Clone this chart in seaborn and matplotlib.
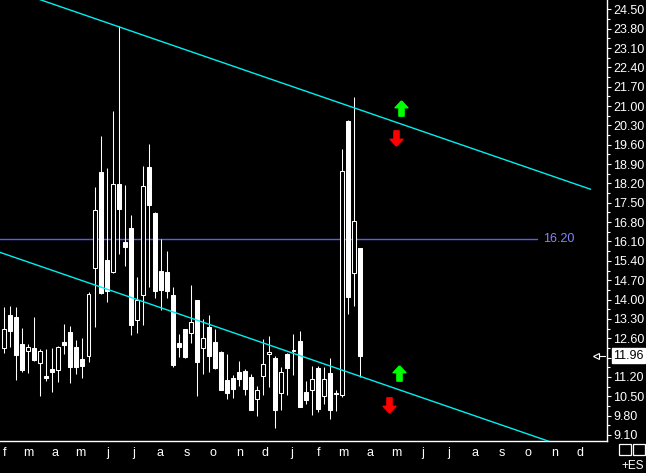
import numpy as np
import pandas as pd
import matplotlib
matplotlib.use("Agg")
import matplotlib.pyplot as plt
import matplotlib.dates as mdates
import matplotlib.transforms as mtrans
from matplotlib.path import Path
from matplotlib.patches import Rectangle
import seaborn as sns

# ---------------- data ----------------
first_week = "2015-02-01"
opens = [12.23, 13.44, 13.37, 12.39, 12.12, 12.25, 11.71, 11.23, 11.49, 11.46,
         12.46, 12.82, 12.28, 11.85, 11.97, 15.13, 18.61, 15.43, 14.98, 18.18,
         16.08, 16.59, 13.26, 14.17, 18.79, 17.13, 15.03, 15.00, 14.16, 12.43,
         12.93, 12.80, 13.98, 12.26, 13.01, 12.46, 12.10, 11.09, 11.16, 11.38,
         11.41, 11.20, 10.41, 11.24, 12.02, 11.88, 10.63, 12.03, 12.12, 12.50,
         10.65, 10.74, 11.52, 10.52, 11.34, 10.58, 10.56, 20.46, 14.97, 15.86]
highs = [13.72, 13.77, 13.72, 12.97, 12.39, 13.37, 12.21, 12.21, 12.26, 12.32,
         13.11, 13.04, 12.54, 12.61, 14.27, 18.07, 19.92, 18.76, 20.82, 23.90,
         18.14, 17.06, 14.81, 18.83, 19.63, 17.15, 16.19, 15.76, 14.45, 12.75,
         12.95, 14.53, 14.00, 13.30, 13.44, 12.93, 12.12, 12.03, 11.27, 11.78,
         11.49, 11.31, 10.87, 12.57, 12.68, 11.96, 11.55, 12.05, 12.75, 12.86,
         11.05, 11.59, 11.59, 11.56, 11.88, 10.74, 19.45, 20.48, 21.33, 15.87]
lows = [12.08, 12.29, 11.09, 11.39, 11.35, 11.79, 10.51, 11.06, 10.66, 11.03,
        12.04, 10.99, 11.32, 11.17, 11.75, 13.00, 14.20, 13.92, 14.95, 15.65,
        15.22, 12.72, 12.78, 13.08, 14.46, 14.07, 13.62, 14.07, 11.57, 11.93,
        11.88, 12.44, 10.52, 11.29, 11.39, 11.50, 10.72, 10.41, 10.45, 10.88,
        10.56, 9.99, 9.80, 10.56, 10.85, 9.36, 10.01, 10.56, 11.28, 10.10,
        10.23, 9.83, 9.94, 10.23, 9.69, 9.98, 10.48, 13.48, 13.78, 11.21]
closes = [12.95, 12.87, 12.00, 11.45, 12.28, 11.81, 12.14, 11.16, 11.39, 12.28,
          12.35, 11.56, 11.56, 11.59, 14.20, 17.23, 14.25, 14.32, 18.18, 17.29,
          15.90, 13.08, 13.98, 18.11, 17.42, 14.32, 14.34, 14.32, 11.64, 12.28,
          11.92, 13.18, 11.75, 12.60, 11.97, 11.53, 10.74, 10.63, 10.77, 11.14,
          10.77, 10.01, 10.73, 11.67, 12.10, 10.01, 11.38, 11.53, 12.16, 10.12,
          10.38, 11.12, 10.05, 11.12, 10.01, 10.60, 18.65, 14.09, 16.84, 11.96]

month_ticks = pd.date_range("2015-02-01", "2016-12-01", freq="MS")
month_labels = ["f", "m", "a", "m", "j", "j", "a", "s", "o", "n", "d",
                "j", "f", "m", "a", "m", "j", "j", "a", "s", "o", "n", "d"]
price_ticks = [9.10, 9.80, 10.50, 11.20, 11.90, 12.60, 13.30, 14.00, 14.70,
               15.40, 16.10, 16.80, 17.50, 18.20, 18.90, 19.60, 20.30, 21.00,
               21.70, 22.40, 23.10, 23.80, 24.50]
hidden_price_labels = [11.90]  # covered by the last-price box in the reference

channel_dates = ["2015-03-01", "2016-12-13", "2015-01-27", "2016-10-31"]
channel_prices = [25.00, 17.99, 15.71, 8.81]
channel_names = ["upper", "upper", "lower", "lower"]

level_value = 16.20
level_dates = ["2015-01-20", "2016-10-12"]

up_arrow_dates = ["2016-05-07", "2016-05-05"]
up_arrow_prices = [20.93, 11.34]
down_arrow_dates = ["2016-05-01", "2016-04-23"]
down_arrow_prices = [19.84, 10.18]

last_price = 11.96

# ---------------- style ----------------
sns.set_theme(style="dark", rc={
    "axes.facecolor": "black", "figure.facecolor": "black",
    "axes.edgecolor": "white", "axes.grid": False,
})
plt.rcParams["font.family"] = ["Liberation Sans", "DejaVu Sans"]

W, H = 646, 473
fig = plt.figure(figsize=(W / 100, H / 100), dpi=100)
ax = fig.add_axes([0, (H - 441) / H, 607 / W, 441 / H])
ax.set_facecolor("black")

df = pd.DataFrame({
    "date": pd.date_range(first_week, periods=len(opens), freq="7D"),
    "open": opens, "high": highs, "low": lows, "close": closes,
})
df["up"] = df["close"] >= df["open"]

# wicks
ax.vlines(df["date"], df["low"], df["high"], color="white", lw=0.75, zorder=2)
# bodies
bottoms = np.minimum(df["open"], df["close"])
heights = np.maximum(np.abs(df["close"] - df["open"]), 0.04)
faces = ["black" if u else "white" for u in df["up"]]
ax.bar(df["date"], heights, bottom=bottoms, width=4.6, color=faces,
       edgecolor="white", linewidth=0.75, zorder=3)

# channel lines
chan = pd.DataFrame({"date": pd.to_datetime(channel_dates),
                     "price": channel_prices, "line": channel_names})
sns.lineplot(data=chan, x="date", y="price", units="line", estimator=None,
             color="#00f0f0", lw=1.0, ax=ax, zorder=4)

# horizontal level
lvl = pd.DataFrame({"date": pd.to_datetime(level_dates),
                    "price": [level_value, level_value]})
sns.lineplot(data=lvl, x="date", y="price", color="#5a5aff", lw=1.0, ax=ax, zorder=1)
ax.annotate(f"{level_value:.2f}", xy=(pd.Timestamp(level_dates[1]), level_value),
            xytext=(4, 0), textcoords="offset points", color="#8484ff",
            fontsize=9, va="center", ha="left")

# arrows
up_path = Path([(0, 0.5), (0.42, 0.05), (0.17, 0.05), (0.17, -0.5),
                (-0.17, -0.5), (-0.17, 0.05), (-0.42, 0.05), (0, 0.5)])
down_path = Path([(x, -y) for x, y in up_path.vertices])
ax.plot(pd.to_datetime(up_arrow_dates), up_arrow_prices, ls="none",
        marker=up_path, markersize=11, color="#00ff00", zorder=5)
ax.plot(pd.to_datetime(down_arrow_dates), down_arrow_prices, ls="none",
        marker=down_path, markersize=11, color="#ff0000", zorder=5)

# axes limits and ticks
base = pd.Timestamp(first_week)
ax.set_xlim(base - pd.Timedelta(days=4.76), base + pd.Timedelta(days=700))
ax.set_ylim(8.88, 24.84)
ax.set_xlabel("")
ax.set_ylabel("")

ax.set_xticks(month_ticks)
ax.set_xticklabels(month_labels)
ax.yaxis.tick_right()
ax.set_yticks(price_ticks)
ax.set_yticklabels(["" if v in hidden_price_labels else f"{v:.2f}"
                    for v in price_ticks])
ax.set_yticks([v + 0.35 for v in price_ticks[:-1]], minor=True)
ax.tick_params(axis="both", colors="white", labelcolor="white", labelsize=9,
               direction="out", length=3, width=0.8, pad=1.5)
ax.tick_params(axis="y", which="minor", colors="white", length=2, width=0.8)
ax.tick_params(axis="x", pad=1)
for s in ["left", "top"]:
    ax.spines[s].set_visible(False)
for s in ["right", "bottom"]:
    ax.spines[s].set_color("white")
    ax.spines[s].set_linewidth(1.0)

# last price box and marker
ax.annotate(f"{last_price:.2f}", xy=(1.0, last_price),
            xycoords=("axes fraction", "data"), xytext=(4.5, 0),
            textcoords="offset points", color="black", fontsize=9,
            va="center", ha="left", annotation_clip=False,
            bbox=dict(boxstyle="square,pad=0.12", fc="white", ec="white"))
blend = mtrans.blended_transform_factory(ax.transAxes, ax.transData)
ax.plot([597 / 607, 605 / 607], [last_price, last_price], color="white",
        lw=0.8, transform=blend, zorder=6)
ax.plot([595.5 / 607], [last_price], marker="<", markersize=5, mfc="black",
        mec="white", mew=0.8, transform=blend, zorder=7, ls="none")

# bottom-right decorations
for x0 in (618.5, 632.5):
    fig.patches.append(Rectangle((x0 / W, 1 - 455 / H), 12 / W, 11.5 / H,
                                 transform=fig.transFigure, fill=False,
                                 ec="white", lw=0.9))
fig.text(644 / W, 1 - 466 / H, "+ES", color="white", fontsize=8.5,
         ha="right", va="center")

fig.savefig("out.png", dpi=100, facecolor="black")
